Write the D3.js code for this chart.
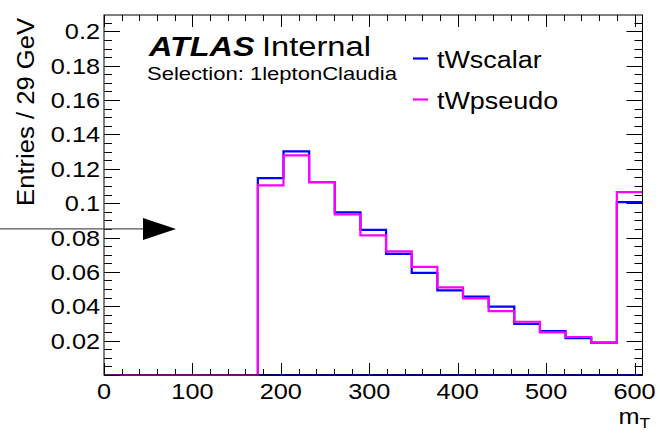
<!DOCTYPE html>
<html><head><meta charset="utf-8">
<script src="https://cdn.jsdelivr.net/npm/d3@7"></script>
<style>
body{margin:0;background:#fff}
svg{display:block}
text{font-family:"Liberation Sans",Arial,Helvetica,sans-serif;fill:#000}
</style></head>
<body><svg id="c" width="660" height="433"></svg>
<script>
// ---- data ----
const binEdges = [0,29,58,87,116,145,174,203,232,261,290,319,348,377,406,435,464,493,522,551,580,609];
const scalarValues = [0,0,0,0,0,0,0.1146,0.1301,0.1123,0.0946,0.0845,0.0705,0.0594,0.0493,0.0456,0.0398,0.0297,0.0256,0.0215,0.0188,0.1006];
const pseudoValues = [0,0,0,0,0,0,0.1103,0.1278,0.1123,0.0934,0.0812,0.0720,0.0629,0.0510,0.0446,0.0372,0.0310,0.0248,0.0221,0.0188,0.1064];
const seriesNames = ["tWscalar","tWpseudo"];
const xTickLabels = [0,100,200,300,400,500,600];
const yTickLabels = [0.02,0.04,0.06,0.08,0.1,0.12,0.14,0.16,0.18,0.2];
const arrowValue = 0.085;
const xDomain = [0,609];
const yDomain = [0,0.2095];

// ---- layout ----
const svg = d3.select("#c");
const L=104, R=642.5, T=15, B=375;
const SX = 1.15;
const x = d3.scaleLinear().domain(xDomain).range([L,R]);
const y = d3.scaleLinear().domain(yDomain).range([B,T]);

function txt(px,py,str,size,anchor,opts={}){
  const t = svg.append("text")
    .attr("transform",`translate(${px},${py}) scale(${opts.sx||SX},1)`)
    .attr("font-size",size)
    .attr("text-anchor",anchor||"start")
    .text(str);
  if(opts.weight) t.attr("font-weight",opts.weight);
  if(opts.style) t.attr("font-style",opts.style);
  return t;
}

// histograms
function stepPoints(vals){
  const pts=[];
  vals.forEach((v,i)=>{pts.push([binEdges[i],v]);pts.push([binEdges[i+1],v]);});
  return pts;
}
const line = d3.line().x(d=>x(d[0])).y(d=>y(d[1]));
const firstNZ = binEdges[scalarValues.findIndex(v=>v>0)];
svg.append("line").attr("x1",x(firstNZ)).attr("x2",x(xDomain[1])).attr("y1",y(0)).attr("y2",y(0))
  .attr("stroke","#0000ff").attr("stroke-width",2);
svg.append("path").attr("d",line(stepPoints(scalarValues))).attr("fill","none")
  .attr("stroke","#0000ff").attr("stroke-width",2.2);
svg.append("path").attr("d",line(stepPoints(pseudoValues))).attr("fill","none")
  .attr("stroke","#ff00ff").attr("stroke-width",2.2);

// frame
svg.append("rect").attr("x",L).attr("y",T).attr("width",R-L).attr("height",B-T)
  .attr("fill","none").attr("stroke","#000").attr("stroke-width",1);

// ticks
const tk = svg.append("g").attr("stroke","#000").attr("stroke-width",1);
const yMinor = d3.range(0,yDomain[1]+1e-9,0.005);
yMinor.forEach((v,i)=>{
  const major = (i%4===0);
  const len = major?16:8;
  const yy = Math.round(y(v))+0.5;
  tk.append("line").attr("x1",L).attr("x2",L+len).attr("y1",yy).attr("y2",yy);
  tk.append("line").attr("x1",R).attr("x2",R-len).attr("y1",yy).attr("y2",yy);
});
const xMinor = d3.range(0,xDomain[1]+1e-9,20);
xMinor.forEach((v,i)=>{
  const major = (i%5===0);
  const len = major?12:6;
  const xx = Math.round(x(v))+0.5;
  tk.append("line").attr("x1",xx).attr("x2",xx).attr("y1",B).attr("y2",B-len);
  tk.append("line").attr("x1",xx).attr("x2",xx).attr("y1",T).attr("y2",T+len);
});

// tick labels
const fmt = v => String(+v.toFixed(3));
yTickLabels.forEach(v=>txt(L-4,y(v)+8,fmt(v),22,"end"));
xTickLabels.forEach(v=>txt(x(v),B+24,fmt(v),22,"middle"));

// axis titles
svg.append("text").attr("transform",`translate(33.5,18) rotate(-90) scale(1.165,1.12)`)
  .attr("font-size",22).attr("text-anchor","end").text("Entries / 29 GeV");
const mt = svg.append("text").attr("transform",`translate(650,424) scale(${SX},1)`)
  .attr("font-size",22).attr("text-anchor","end");
mt.append("tspan").text("m");
mt.append("tspan").attr("font-size",15).attr("dy",4).text("T");

// labels
txt(149,56,"ATLAS",27,"start",{weight:"bold",style:"italic",sx:1.2});
txt(262,56,"Internal",27,"start",{sx:1.21});
txt(147,80,"Selection: 1leptonClaudia",17.5,"start",{sx:1.26});

// legend
const legColors = ["#0000ff","#ff00ff"];
seriesNames.forEach((n,i)=>{
  const ly = 58.5 + i*41;
  svg.append("line").attr("x1",413).attr("x2",428).attr("y1",ly).attr("y2",ly)
    .attr("stroke",legColors[i]).attr("stroke-width",2.2);
  txt(437,ly+9,n,23,"start",{sx:1.17});
});

// arrow
const ay = y(arrowValue);
svg.append("line").attr("x1",0).attr("x2",145).attr("y1",ay).attr("y2",ay)
  .attr("stroke","#555").attr("stroke-width",1.3);
svg.append("path").attr("d",`M143,${ay-11}L176,${ay}L143,${ay+11}Z`).attr("fill","#000");
</script></body></html>
